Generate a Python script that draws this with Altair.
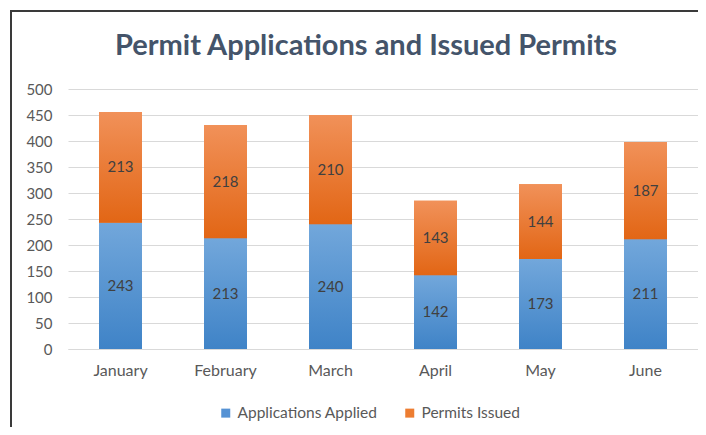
import altair as alt
import pandas as pd

months = ["January", "February", "March", "April", "May", "June"]
series = ["Applications Applied", "Permits Issued"]
applied = [243, 213, 240, 142, 173, 211]
issued = [213, 218, 210, 143, 144, 187]
y_ticks = list(range(0, 501, 50))
title_text = "Permit Applications and Issued Permits"

rows = []
for m, a, p in zip(months, applied, issued):
    rows.append({"month": m, "series": series[0], "value": a, "y0": 0, "y1": a, "mid": a / 2})
    rows.append({"month": m, "series": series[1], "value": p, "y0": a, "y1": a + p, "mid": a + p / 2})
df = pd.DataFrame(rows)

FONT = "Lato"
GRAY = "#595959"


def xe():
    return alt.X("month:N", sort=months, title=None,
                 scale=alt.Scale(paddingInner=0, paddingOuter=0),
                 axis=alt.Axis(labelAngle=0, ticks=False, domainColor="#D9D9D9",
                               labelPadding=13, labelColor=GRAY, labelFont=FONT, labelFontSize=16))


def ye(field):
    return alt.Y(field, title=None, scale=alt.Scale(domain=[0, 500], nice=False),
                 axis=alt.Axis(values=y_ticks, labelOverlap=False, domain=False,
                               ticks=False, gridColor="#D9D9D9",
                               labelPadding=16, labelColor=GRAY, labelFont=FONT, labelFontSize=15))


base = alt.Chart(df)

bars = base.mark_bar(width=43).encode(
    x=xe(), y=ye("y0:Q"), y2="y1:Q",
    color=alt.Color("series:N", scale=alt.Scale(domain=series, range=["#5592D4", "#ED7D31"]),
                    legend=alt.Legend(title=None, orient="none", direction="horizontal",
                                      legendX=150, legendY=316, symbolType="square",
                                      symbolSize=81, symbolStrokeWidth=0, labelOffset=4,
                                      columnPadding=24, labelFont=FONT, labelFontSize=15.5,
                                      labelColor=GRAY)),
)


def grad(top, bottom):
    return {"gradient": "linear", "x1": 0, "y1": 0, "x2": 0, "y2": 1,
            "stops": [{"offset": 0, "color": top}, {"offset": 1, "color": bottom}]}


blue = base.transform_filter(alt.datum.series == series[0]).mark_bar(
    width=43, color=grad("#72A7DB", "#3F83C7")).encode(x=xe(), y=ye("y0:Q"), y2="y1:Q")
orange = base.transform_filter(alt.datum.series == series[1]).mark_bar(
    width=43, color=grad("#F19159", "#E26615")).encode(x=xe(), y=ye("y0:Q"), y2="y1:Q")

labels = base.mark_text(font=FONT, fontSize=15, color="#404040", baseline="middle").encode(
    x=xe(), y=ye("mid:Q"), text="value:Q")

one = alt.Data(values=[{"t": title_text}])
title = alt.Chart(one).mark_text(font=FONT, fontWeight="bold", fontSize=29, color="#44546A",
                                 align="center", baseline="alphabetic").encode(
    x=alt.value(298), y=alt.value(-34), text="t:N")

left_border = alt.Chart(one).mark_rule(color="#3A3A3A", strokeWidth=2).encode(
    x=alt.value(-57), y=alt.value(-79), y2=alt.value(360))
top_border = alt.Chart(one).mark_rule(color="#3A3A3A", strokeWidth=2).encode(
    y=alt.value(-78), x=alt.value(-58), x2=alt.value(650))

chart = alt.layer(bars, blue, orange, labels, title, left_border, top_border).properties(
    width=630, height=260,
    autosize=alt.AutoSizeParams(type="none"),
    padding={"left": 60, "top": 81, "right": 0, "bottom": 78},
    background="white",
).configure_view(stroke=None)

chart.save("out.html", embed_options={"renderer": "svg", "actions": False})
